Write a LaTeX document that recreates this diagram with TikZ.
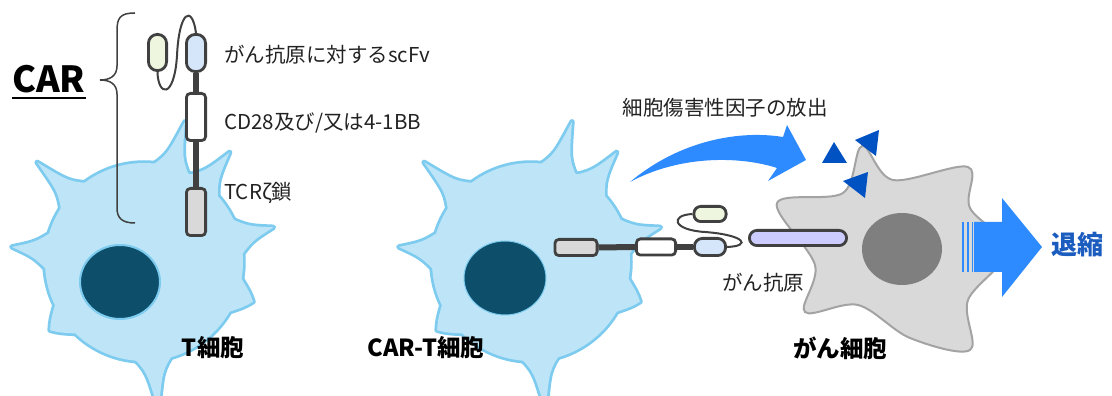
\documentclass[tikz,border=0pt]{standalone}
\usepackage{fontspec}
\setmainfont{Noto Sans CJK JP}
\definecolor{cellfill}{HTML}{BDE5F7}
\definecolor{cellline}{HTML}{7DCBEF}
\definecolor{nucfill}{HTML}{0D4F6B}
\definecolor{canfill}{HTML}{D9D9D9}
\definecolor{canline}{HTML}{A3A3A3}
\definecolor{cannuc}{HTML}{7F7F7F}
\definecolor{dark}{HTML}{404040}
\definecolor{txt}{HTML}{222222}
\definecolor{grnfill}{HTML}{EEF6DF}
\definecolor{blufill}{HTML}{D6E6FA}
\definecolor{greyfill}{HTML}{D9D9D9}
\definecolor{agfill}{HTML}{CCCCFF}
\definecolor{arrowblue}{HTML}{2E8BFF}
\definecolor{factorblue}{HTML}{0052C2}
\definecolor{txtblue}{HTML}{1B5CBF}

% spiky T-cell body, drawn around the current origin
\newcommand\cellbody[1]{%
  \path[#1] (0,0) circle[radius=99];
  \foreach \a/\l in {137/146,173.5/133,216/116,275.6/150,340/116,15/134,52/139,73.7/146}{%
    \path[#1] ({\a-13}:95) .. controls ({\a-4}:110) .. (\a:\l)
      .. controls ({\a+4}:110) .. ({\a+13}:95) -- cycle;
  }%
}

\begin{document}
\begin{tikzpicture}[x=1pt,y=1pt,
  lbl/.style={font=\fontsize{20.5}{24}\selectfont, text=txt, inner sep=0pt},
  blbl/.style={font=\fontsize{23.5}{28}\selectfont\bfseries, text=black, inner sep=0pt},
  carbox/.style={draw=dark, line width=2.8pt, inner sep=0pt},
  stalk/.style={draw=dark, line width=6pt},
  linker/.style={draw=dark, line width=2pt},
  cancer/.style={draw=canline, fill=canfill, line width=2pt},
]
\useasboundingbox (0,0) rectangle (1112,396);

% T cells
\foreach \cx in {144,531}{
  \begin{scope}[shift={(\cx,134)}]
    \cellbody{draw=cellline, line width=5.5pt, line join=round}
    \cellbody{fill=cellfill}
  \end{scope}
}
\draw[draw=cellline, line width=2pt, fill=nucfill] (120,114) ellipse[x radius=40, y radius=37];
\draw[draw=cellline, line width=1pt, fill=nucfill] (505,118) ellipse[x radius=41, y radius=37];

% cancer cell
\draw[cancer] plot[smooth cycle, tension=0.55] coordinates {
  (862,250) (893,216) (968,229) (970,188) (1008,146) (968,96) (970,46)
  (910,58) (858,91) (805,84) (815,131) (777,193) (843,203)};
\fill[cannuc] (902,147) ellipse[x radius=40, y radius=36];

% cytotoxic factors
\fill[factorblue] (822,233) -- (847,233) -- (834,254) -- cycle;
\fill[factorblue] (855,256) -- (879,266) -- (876,240) -- cycle;
\fill[factorblue] (843,215) -- (868,224) -- (865,198) -- cycle;

% release arrow
\fill[arrowblue] (630,214) .. controls (680,256) and (740,266) .. (783,259)
  -- (787,271) -- (806,236) -- (768,215) -- (777,228)
  .. controls (740,240) and (680,241) .. (630,214) -- cycle;

% regression arrow
\fill[arrowblue] (961.5,124) rectangle (963.8,174);
\fill[arrowblue] (966.5,124) rectangle (968.8,174);
\fill[arrowblue] (971.5,124) rectangle (973.2,174);
\fill[arrowblue] (974,124) -- (1002,124) -- (1002,99) -- (1042,149)
  -- (1002,198) -- (1002,174) -- (974,174) -- cycle;

% CAR structure (left)
\node[carbox, fill=grnfill, minimum width=18.2, minimum height=36.2, rounded corners=9] (lg) at (157.5,343.5) {};
\node[carbox, fill=blufill, minimum width=19.2, minimum height=37.2, rounded corners=9] (lb) at (196,343) {};
\node[carbox, fill=white, minimum width=19.2, minimum height=47.2, rounded corners=4] (lw) at (196,279) {};
\node[carbox, fill=greyfill, minimum width=19.2, minimum height=47.2, rounded corners=4] (lz) at (196,184) {};
\draw[stalk] (lb.south) -- (lw.north);
\draw[stalk] (lw.south) -- (lz.north);
\draw[linker] (lg.south) .. controls (158,300) and (174,296) .. (177,340)
  .. controls (179,385) and (192,392) .. (lb.north);

% CAR bound to antigen (middle)
\node[carbox, fill=agfill, minimum width=97.2, minimum height=15.2, rounded corners=7.6] (ag) at (798,158) {};
\node[carbox, fill=greyfill, minimum width=42.2, minimum height=16.2, rounded corners=4] (mz) at (576,148.5) {};
\node[carbox, fill=white, minimum width=39.2, minimum height=16.2, rounded corners=4] (mw) at (656,149) {};
\node[carbox, fill=blufill, minimum width=31.2, minimum height=17.2, rounded corners=8] (mb) at (710,149) {};
\node[carbox, fill=grnfill, minimum width=32.2, minimum height=15.2, rounded corners=7] (mg) at (710,182) {};
\draw[stalk] (mz.east) -- (mw.west);
\draw[stalk] (mw.east) -- (mb.west);
\draw[linker] (mg.west) .. controls (670,181) and (672,166) .. (705,164)
  .. controls (745,161) and (752,150) .. (mb.east);

% brace around the CAR
\draw[draw=dark, line width=1.5pt] (135,383) .. controls (120,383) and (117,378) .. (117,365)
  -- (117,330) .. controls (117,320) and (110,316) .. (100,316)
  .. controls (110,316) and (117,312) .. (117,302)
  -- (117,188) .. controls (117,178) and (122,173) .. (135,173);

% labels
\node[font=\fontsize{36}{40}\selectfont\bfseries, text=black, inner sep=0pt, anchor=base west] (car) at (12,303) {CAR};
\draw[line width=2pt] ([yshift=-5pt]car.base west) -- ([yshift=-5pt]car.base east);
\node[lbl, anchor=west] (t1) at (224,341) {がん抗原に対するscFv};
\node[lbl, anchor=west] (t2) at (224,273) {CD28及び/又は4-1BB};
\node[lbl, anchor=west] (t3) at (224,203) {TCRζ鎖};
\node[lbl] (t4) at (725,288) {細胞傷害性因子の放出};
\node[lbl] (t5) at (763,113) {がん抗原};
\node[blbl] (c1) at (213,48) {T細胞};
\node[blbl] (c2) at (426,48) {CAR-T細胞};
\node[blbl] (c3) at (840,48) {がん細胞};
\node[font=\fontsize{26}{30}\selectfont\bfseries, text=txtblue, inner sep=0pt] (reg) at (1077,151) {退縮};
\end{tikzpicture}
\end{document}
